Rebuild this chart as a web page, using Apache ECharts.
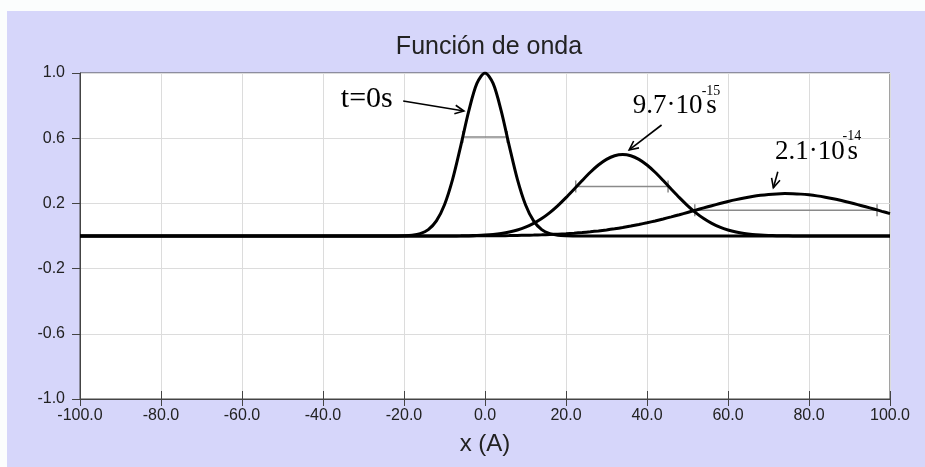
<!DOCTYPE html>
<html><head><meta charset="utf-8">
<script src="https://cdn.jsdelivr.net/npm/echarts@6/dist/echarts.min.js"></script>
<style>
html,body{margin:0;padding:0;width:925px;height:467px;overflow:hidden;background:#fbfdfd;}
#panel{position:absolute;left:7px;top:11px;width:918px;height:456px;}
</style></head><body>
<div id="panel"></div>
<script>
// x positions (Å)
const xs = [-100, -40, -30,
  -24, -22, -20, -18, -16, -14, -12, -10, -8, -6, -4, -2,
  0, 2, 4, 6, 8, 10, 12, 14, 16, 18, 20, 22, 24, 26, 28, 30, 32, 34, 36, 38, 40,
  42, 44, 46, 48, 50, 52, 54, 56, 58, 60, 62, 64, 66, 68, 70, 72, 74, 76, 78, 80,
  82, 84, 86, 88, 90, 92, 94, 96, 98, 100];
// t = 0 s
const psiT0 = [0, 0, 0,
  0, 0.0003, 0.0013, 0.0047, 0.0145, 0.0392, 0.0926, 0.1915, 0.3472, 0.5516, 0.7676, 0.936,
  1, 0.936, 0.7676, 0.5516, 0.3472, 0.1915, 0.0926, 0.0392, 0.0145, 0.0047, 0.0013, 0.0003, 0, 0, 0, 0, 0, 0, 0, 0, 0,
  0, 0, 0, 0, 0, 0, 0, 0, 0, 0, 0, 0, 0, 0, 0, 0, 0, 0, 0, 0,
  0, 0, 0, 0, 0, 0, 0, 0, 0, 0];
// t = 9.7e-15 s
const psiT1 = [0, 0, 0,
  0, 0, 0, 0, 0.0001, 0.0001, 0.0001, 0.0003, 0.0006, 0.0010, 0.0019, 0.0034,
  0.0059, 0.0097, 0.0157, 0.0245, 0.0371, 0.0545, 0.0777, 0.1073, 0.1437, 0.1867, 0.2353, 0.2873, 0.3403, 0.3909, 0.4353, 0.4702, 0.4924, 0.5, 0.4924, 0.4702, 0.4353,
  0.3909, 0.3403, 0.2873, 0.2353, 0.1867, 0.1437, 0.1073, 0.0777, 0.0545, 0.0371, 0.0245, 0.0157, 0.0097, 0.0059, 0.0034, 0.0019, 0.0011, 0.0006, 0.0003, 0.0001,
  0, 0, 0, 0, 0, 0, 0, 0, 0, 0];
// t = 2.1e-14 s
const psiT2 = [0, 0, 0,
  0, 0, 0.0001, 0.0001, 0.0001, 0.0002, 0.0002, 0.0002, 0.0003, 0.0005, 0.0006, 0.0008,
  0.0011, 0.0015, 0.0020, 0.0026, 0.0034, 0.0044, 0.0057, 0.0072, 0.0091, 0.0114, 0.0142, 0.0175, 0.0214, 0.0260, 0.0313, 0.0374, 0.0444, 0.0522, 0.0609, 0.0706, 0.0811,
  0.0925, 0.1046, 0.1174, 0.1307, 0.1445, 0.1584, 0.1723, 0.1860, 0.1992, 0.2116, 0.2231, 0.2334, 0.2422, 0.2495, 0.2549, 0.2584, 0.2600, 0.2594, 0.2569, 0.2524,
  0.2461, 0.2380, 0.2284, 0.2175, 0.2055, 0.1926, 0.1792, 0.1654, 0.1514, 0.1376];

// half-width markers (gray segments)
const halfStart = [-5.5, 22.4, 51.8];
const halfEnd = [5.5, 45.2, 96.8];
const halfLevel = [0.607, 0.304, 0.158];

// annotations
const labelText = ['t=0s', '9.7·10', '2.1·10'];
const labelSize = [30, 27, 27];
const labelAt = [[-35.6, 0.84], [36.5, 0.80], [71.6, 0.515]];
const unitText = ['', 's', 's'];
const unitAt = [null, [54.6, 0.80], [89.5, 0.515]];
const supText = ['', '-15', '-14'];
const supAt = [null, [55.8, 0.89], [90.6, 0.613]];
const arrowFrom = [[-20.2, 0.828], [43.6, 0.681], [72.3, 0.394]];
const arrowTo = [[-5.2, 0.767], [35.6, 0.528], [71.2, 0.296]];

const titleText = 'Función de onda';
const xName = 'x (A)';

const SANS = '"Liberation Sans", Arial, sans-serif';
const SERIF = '"Liberation Serif", "Times New Roman", serif';

const chart = echarts.init(document.getElementById('panel'), null, {renderer: 'canvas'});

const curves = [psiT0, psiT1, psiT2].map((ys, k) => ({
  type: 'line', name: 'psi' + k, smooth: 0.3, showSymbol: false, z: 4,
  lineStyle: {color: '#000', width: 3}, itemStyle: {color: '#000'},
  data: xs.map((x, i) => [x, ys[i]])
}));
const halves = halfStart.map((s, k) => ({
  type: 'line', z: 3, symbol: 'rect', symbolSize: [1.5, 12], showSymbol: true,
  lineStyle: {color: '#8a8a8a', width: 1.5}, itemStyle: {color: '#8a8a8a'},
  data: [[s, halfLevel[k]], [halfEnd[k], halfLevel[k]]]
}));

const axisBase = {type: 'value', min: -100, max: 100, interval: 20};

chart.setOption({
  animation: false,
  backgroundColor: '#d6d6fa',
  title: {text: titleText, left: 477, textAlign: 'center', top: 19,
    textStyle: {fontFamily: SANS, fontSize: 25, fontWeight: 'normal', color: '#222'}},
  grid: {left: 73, right: 35, top: 62, bottom: 68, show: true, backgroundColor: '#fff',
    borderColor: '#444', borderWidth: 1},
  xAxis: [Object.assign({}, axisBase, {
    axisLine: {show: true, onZero: false, lineStyle: {color: '#444', width: 1}},
    axisTick: {show: true, length: 7, lineStyle: {color: '#444'}},
    axisLabel: {formatter: v => v.toFixed(1), color: '#222', fontSize: 16, margin: 9,
      fontFamily: SANS, showMinLabel: true, showMaxLabel: true},
    splitLine: {show: true, lineStyle: {color: '#dcdcdc', width: 1}},
    name: xName, nameLocation: 'middle', nameGap: 33,
    nameTextStyle: {fontSize: 24, color: '#222', fontFamily: SANS}}),
    Object.assign({}, axisBase, {position: 'bottom',
    axisLine: {show: false, onZero: false},
    axisTick: {show: true, inside: true, length: 8, lineStyle: {color: '#444'}},
    axisLabel: {show: false}, splitLine: {show: false}})],
  yAxis: {type: 'value', min: -1, max: 1, interval: 0.4,
    axisLine: {show: true, onZero: false, lineStyle: {color: '#444', width: 1}},
    axisTick: {show: true, length: 8, lineStyle: {color: '#444'}},
    axisLabel: {formatter: v => v.toFixed(1), color: '#222', fontSize: 16, margin: 15,
      fontFamily: SANS, showMinLabel: true, showMaxLabel: true},
    splitLine: {show: true, lineStyle: {color: '#dcdcdc', width: 1}}},
  series: curves.concat(halves)
});

function px(p) { return chart.convertToPixel({gridIndex: 0}, p); }
const els = [];
labelText.forEach((t, k) => {
  const p = px(labelAt[k]);
  els.push({type: 'text', x: p[0], y: p[1], z: 10,
    style: {text: t, fill: '#000', font: labelSize[k] + 'px ' + SERIF, align: 'left', verticalAlign: 'middle'}});
  if (unitText[k]) {
    const u = px(unitAt[k]);
    els.push({type: 'text', x: u[0], y: u[1], z: 10,
      style: {text: unitText[k], fill: '#000', font: labelSize[k] + 'px ' + SERIF, align: 'left', verticalAlign: 'middle'}});
  }
  if (supText[k]) {
    const q = px(supAt[k]);
    els.push({type: 'text', x: q[0], y: q[1], z: 10,
      style: {text: supText[k], fill: '#000', font: '14px ' + SERIF, align: 'center', verticalAlign: 'middle'}});
  }
  const a = px(arrowFrom[k]), b = px(arrowTo[k]);
  const ang = Math.atan2(b[1] - a[1], b[0] - a[0]);
  const L = 10, w = 0.45;
  const h1 = [b[0] - L * Math.cos(ang - w), b[1] - L * Math.sin(ang - w)];
  const h2 = [b[0] - L * Math.cos(ang + w), b[1] - L * Math.sin(ang + w)];
  els.push({type: 'polyline', z: 10, shape: {points: [a, b]}, style: {stroke: '#000', lineWidth: 1.6, fill: null}});
  els.push({type: 'polyline', z: 10, shape: {points: [h1, b, h2]}, style: {stroke: '#000', lineWidth: 1.6, fill: null}});
});
chart.setOption({graphic: {elements: els}});
</script>
</body></html>
